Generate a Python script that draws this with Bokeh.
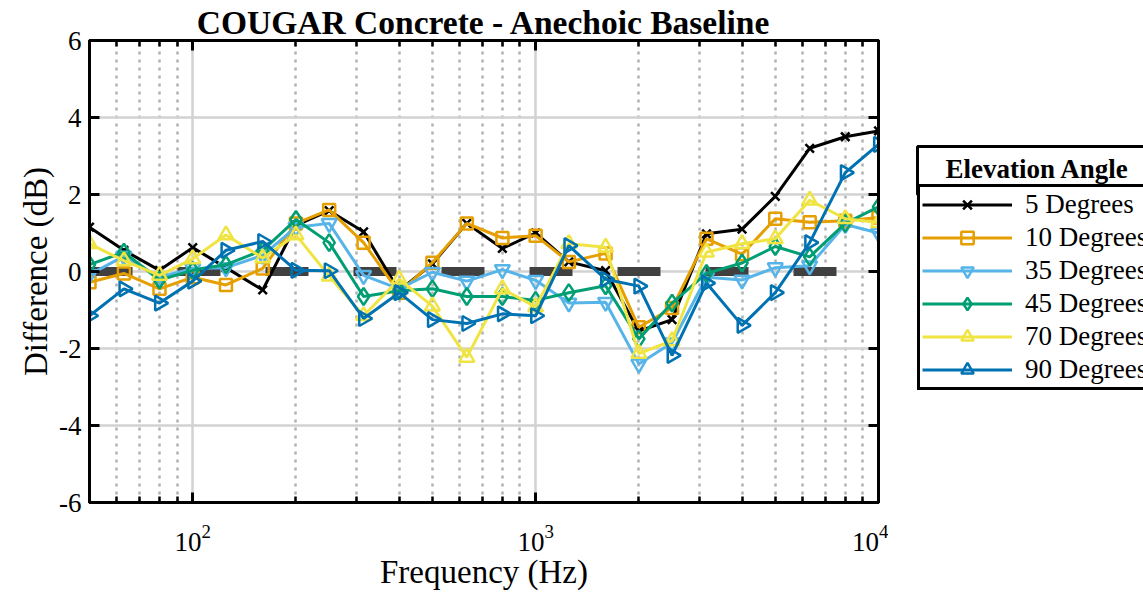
from bokeh.plotting import figure
from bokeh.layouts import row
from bokeh.models import (FixedTicker, LogAxis, LinearAxis, Legend, LegendItem, Label,
                          CustomJSTickFormatter)
from bokeh.embed import file_html
from bokeh.resources import INLINE
import math

# ---------------- data ----------------
freqs = [50, 63, 80, 100, 125, 160, 200, 250, 315, 400, 500, 630, 800, 1000,
         1250, 1600, 2000, 2500, 3150, 4000, 5000, 6300, 8000, 10000]

deg5 = [1.15, 0.55, 0.03, 0.62, 0.1, -0.48, 1.2, 1.58, 1.03, -0.5, 0.2, 1.25,
        0.6, 1.0, 0.25, 0.02, -1.55, -1.25, 0.98, 1.1, 1.95, 3.2, 3.5, 3.65]
deg10 = [-0.28, -0.05, -0.45, -0.15, -0.35, 0.08, 1.25, 1.6, 0.75, -0.55, 0.23, 1.25,
         0.87, 0.93, 0.25, 0.47, -1.45, -0.95, 0.85, 0.45, 1.37, 1.28, 1.32, 1.4]
deg35 = [-0.08, 0.4, -0.15, 0.08, 0.1, 0.42, 1.15, 1.25, -0.1, -0.45, -0.02, -0.25,
         0.05, -0.23, -0.82, -0.8, -2.4, -1.85, -0.15, -0.22, 0.1, 0.15, 1.22, 1.0]
deg45 = [0.18, 0.5, -0.22, 0.03, 0.18, 0.55, 1.35, 0.75, -0.65, -0.5, -0.45, -0.65,
         -0.65, -0.75, -0.55, -0.37, -1.75, -0.82, -0.05, 0.22, 0.65, 0.38, 1.25, 1.68]
deg70 = [0.72, 0.28, -0.1, 0.33, 0.95, 0.35, 0.95, -0.12, -1.15, -0.2, -0.9, -2.23,
         -0.45, -0.92, 0.72, 0.63, -2.13, -1.8, 0.5, 0.72, 0.85, 1.85, 1.37, 1.27]
deg90 = [-1.15, -0.45, -0.82, -0.25, 0.55, 0.78, 0.03, 0.02, -1.22, -0.55, -1.25, -1.35,
         -1.1, -1.15, 0.67, -0.2, -0.38, -2.18, -0.3, -1.4, -0.55, 0.75, 2.57, 3.3]

labels = ["5 Degrees", "10 Degrees", "35 Degrees", "45 Degrees", "70 Degrees", "90 Degrees"]
series = [deg5, deg10, deg35, deg45, deg70, deg90]

zero_x = [50, 10000]
zero_y = [0, 0]

x_major = [100, 1000, 10000]
x_minor = [60, 70, 80, 90, 200, 300, 400, 500, 600, 700, 800, 900,
           2000, 3000, 4000, 5000, 6000, 7000, 8000, 9000]
y_ticks = [-6, -4, -2, 0, 2, 4, 6]

title_text = "COUGAR Concrete - Anechoic Baseline"
legend_title = "Elevation Angle"

# ---------------- styles ----------------
colors = ["#000000", "#E69F00", "#56B4E9", "#009E73", "#F0E442", "#0072B2"]
markers = ["x", "square", "inverted_triangle", "diamond", "triangle", "triangle"]
msizes = [12, 12, 15, 17, 15, 15]
angles = [0, 0, 0, 0, 0, -math.pi / 2]

FONT = "Liberation Serif"
BT, BB = 40, 91   # top / bottom borders shared by both panels

p = figure(width=888, height=593, x_axis_type="log", x_range=(50, 10000), y_range=(-6, 6),
           output_backend="svg", toolbar_location=None,
           min_border_left=89, min_border_right=10, min_border_top=BT, min_border_bottom=BB)

p.title.text = title_text
p.title.text_font = FONT
p.title.text_font_style = "bold"
p.title.text_font_size = "33.5px"
p.title.align = "center"
p.title.standoff = 0
p.title.text_color = "black"

xt = FixedTicker(ticks=x_major, minor_ticks=x_minor)
yt = FixedTicker(ticks=y_ticks)

p.xaxis.ticker = xt
p.yaxis.ticker = yt
p.xgrid.ticker = xt
p.ygrid.ticker = yt

p.xgrid.grid_line_color = "#d2d2d2"
p.xgrid.grid_line_width = 2.5
p.xgrid.minor_grid_line_color = "#b0b0b0"
p.xgrid.minor_grid_line_width = 2.5
p.xgrid.minor_grid_line_dash = "3 5"
p.ygrid.grid_line_color = "#d2d2d2"
p.ygrid.grid_line_width = 2.5

p.outline_line_color = "black"
p.outline_line_width = 3


def style_axis(ax, minor=True):
    ax.axis_line_width = 3
    ax.axis_line_color = "black"
    ax.major_tick_in = 10
    ax.major_tick_out = 0
    ax.major_tick_line_width = 3
    ax.major_tick_line_color = "black"
    if minor:
        ax.minor_tick_in = 6
        ax.minor_tick_out = 0
        ax.minor_tick_line_width = 2.5
        ax.minor_tick_line_color = "black"
    else:
        ax.minor_tick_line_color = None
    ax.major_label_text_font = FONT
    ax.major_label_text_font_size = "27px"
    ax.major_label_text_color = "black"
    ax.axis_label_text_font = FONT
    ax.axis_label_text_font_size = "33px"
    ax.axis_label_text_font_style = "normal"
    ax.axis_label_text_color = "black"


xa = p.xaxis[0]
style_axis(xa)
xa.axis_label = "Frequency (Hz)"
xa.major_label_standoff = 22
xa.axis_label_standoff = 0

ya = p.yaxis[0]
style_axis(ya, minor=False)
ya.axis_label = "Difference (dB)"
ya.formatter = CustomJSTickFormatter(code="return tick.toString()")
ya.major_label_standoff = 8
ya.axis_label_standoff = 2

blank = CustomJSTickFormatter(code="return ''")
top = LogAxis(ticker=xt, formatter=blank)
style_axis(top)
top.major_label_text_font_size = "1px"
top.major_label_standoff = 0
p.add_layout(top, "above")
right = LinearAxis(ticker=yt, formatter=blank)
style_axis(right, minor=False)
right.major_label_text_font_size = "1px"
right.major_label_standoff = 0
p.add_layout(right, "right")

# zero reference line
p.line(zero_x, zero_y, line_color="#404040", line_width=9, line_dash="43 45")

for vals, c, m, s, a in zip(series, colors, markers, msizes, angles):
    p.line(freqs, vals, line_color=c, line_width=3)
    p.scatter(freqs, vals, marker=m, size=s, angle=a, line_color=c,
              fill_color=None, line_width=2.5)

# ---------------- legend panel (separate figure to the right) ----------------
q = figure(width=255, height=593, x_range=(0, 1), y_range=(0, 1),
           x_axis_type=None, y_axis_type=None, output_backend="svg",
           toolbar_location=None, min_border_left=0, min_border_right=0,
           min_border_top=BT, min_border_bottom=BB)
q.outline_line_color = None
q.xgrid.visible = False
q.ygrid.visible = False

items = []
for lab, vals, c, m, s, a in zip(labels, series, colors, markers, msizes, angles):
    # same series, outside this panel's (0..1) view: only their legend glyphs show
    lr = q.line(freqs, vals, line_color=c, line_width=3)
    sr = q.scatter(freqs, vals, marker=m, size=s, angle=a, line_color=c,
                   fill_color=None, line_width=2.5)
    items.append(LegendItem(label=lab, renderers=[lr, sr]))

legend = Legend(items=items, location=(29, 112),
                border_line_color="black", border_line_width=3, border_line_alpha=1,
                background_fill_color="white", background_fill_alpha=1,
                label_text_font=FONT, label_text_font_size="27px",
                label_text_color="black",
                glyph_width=90, glyph_height=31, label_height=31, label_width=130,
                spacing=2, padding=2, label_standoff=13, margin=0)
q.add_layout(legend)

leg_title = Label(x=29, y=308, x_units="screen", y_units="screen",
                  text=legend_title, text_font=FONT, text_font_style="bold",
                  text_font_size="27px", text_align="left", text_baseline="bottom",
                  text_color="black",
                  padding=dict(left=28, right=40, top=7, bottom=11),
                  border_line_color="black", border_line_width=3,
                  background_fill_color="white")
q.add_layout(leg_title)

layout = row(p, q)
open("out.html", "w").write(file_html(layout, INLINE))
